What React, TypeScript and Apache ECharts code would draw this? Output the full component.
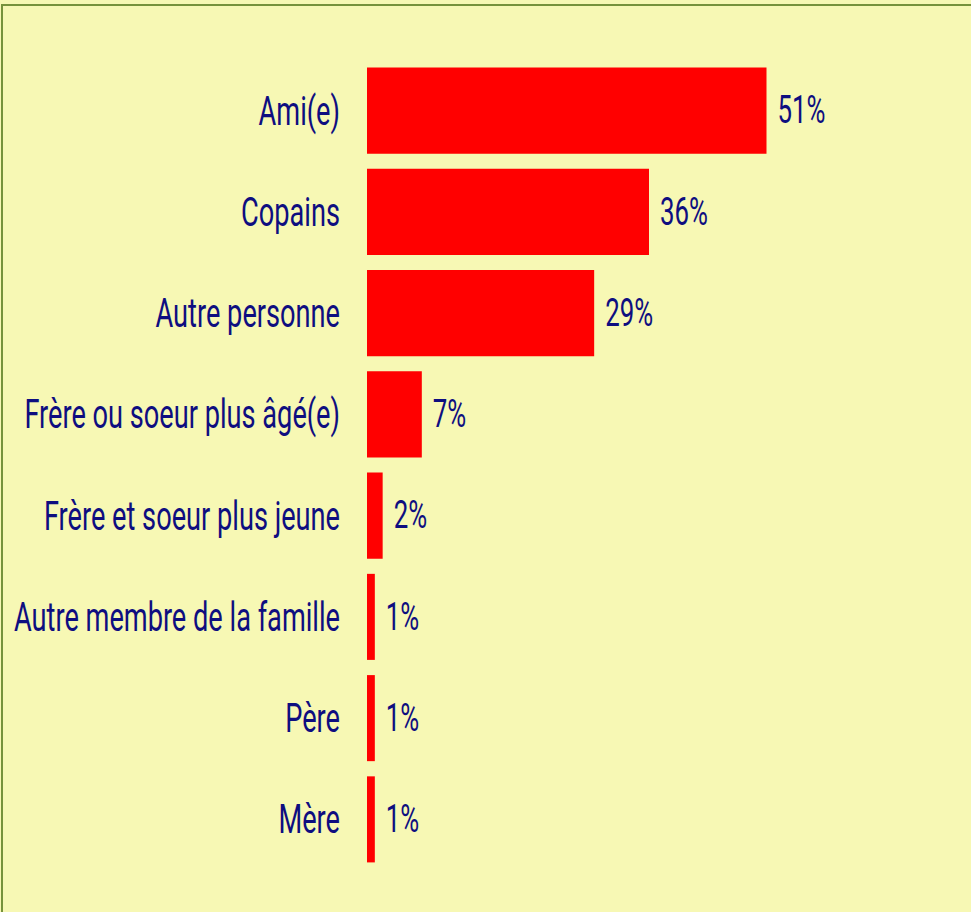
import React, { useEffect, useRef } from "react";
import * as echarts from "echarts";

const categories = [
  "Ami(e)",
  "Copains",
  "Autre personne",
  "Frère ou soeur plus âgé(e)",
  "Frère et soeur plus jeune",
  "Autre membre de la famille",
  "Père",
  "Mère",
];
const values = [51, 36, 29, 7, 2, 1, 1, 1];

const W = 971;
const H = 912;
const SX = 0.68; // horizontal condensing of the whole chart (condensed font look)
const CW = W / SX;

export default function App() {
  const ref = useRef<HTMLDivElement>(null);
  useEffect(() => {
    document.body.style.margin = "0";
    const chart = echarts.init(ref.current!, undefined, { renderer: "svg", width: CW, height: H });
    const textColor = "#0E0E80";
    chart.setOption({
      animation: false,
      backgroundColor: "transparent",
      grid: { left: 367 / SX, top: 60, bottom: 42, width: 470 / SX, containLabel: false },
      xAxis: {
        type: "value",
        min: 0,
        max: 60,
        show: false,
      },
      yAxis: {
        type: "category",
        data: categories,
        inverse: true,
        axisLine: { show: false },
        axisTick: { show: false },
        splitLine: { show: false },
        axisLabel: {
          color: textColor,
          fontFamily: "Roboto",
          fontWeight: 400,
          fontSize: 40,
          margin: 27 / SX,
        },
      },
      series: [
        {
          type: "bar",
          data: values,
          barCategoryGap: "15%",
          itemStyle: { color: "#FF0000" },
          label: {
            show: true,
            position: "right",
            distance: 11 / SX,
            formatter: "{c}%",
            color: textColor,
            fontFamily: "Roboto",
            fontWeight: 400,
            fontSize: 38,
          },
        },
      ],
    });
    return () => chart.dispose();
  }, []);
  return (
    <div
      style={{
        position: "relative",
        width: W,
        height: H,
        overflow: "hidden",
        background: "#F7F8B4",
      }}
    >
      <div
        style={{
          position: "absolute",
          left: 1,
          top: 4,
          width: W + 100,
          height: H + 100,
          border: "2px solid #76923C",
          boxSizing: "border-box",
        }}
      />
      <div
        ref={ref}
        style={{
          position: "absolute",
          left: 0,
          top: 0,
          width: CW,
          height: H,
          transform: `scaleX(${SX})`,
          transformOrigin: "0 0",
        }}
      />
    </div>
  );
}
